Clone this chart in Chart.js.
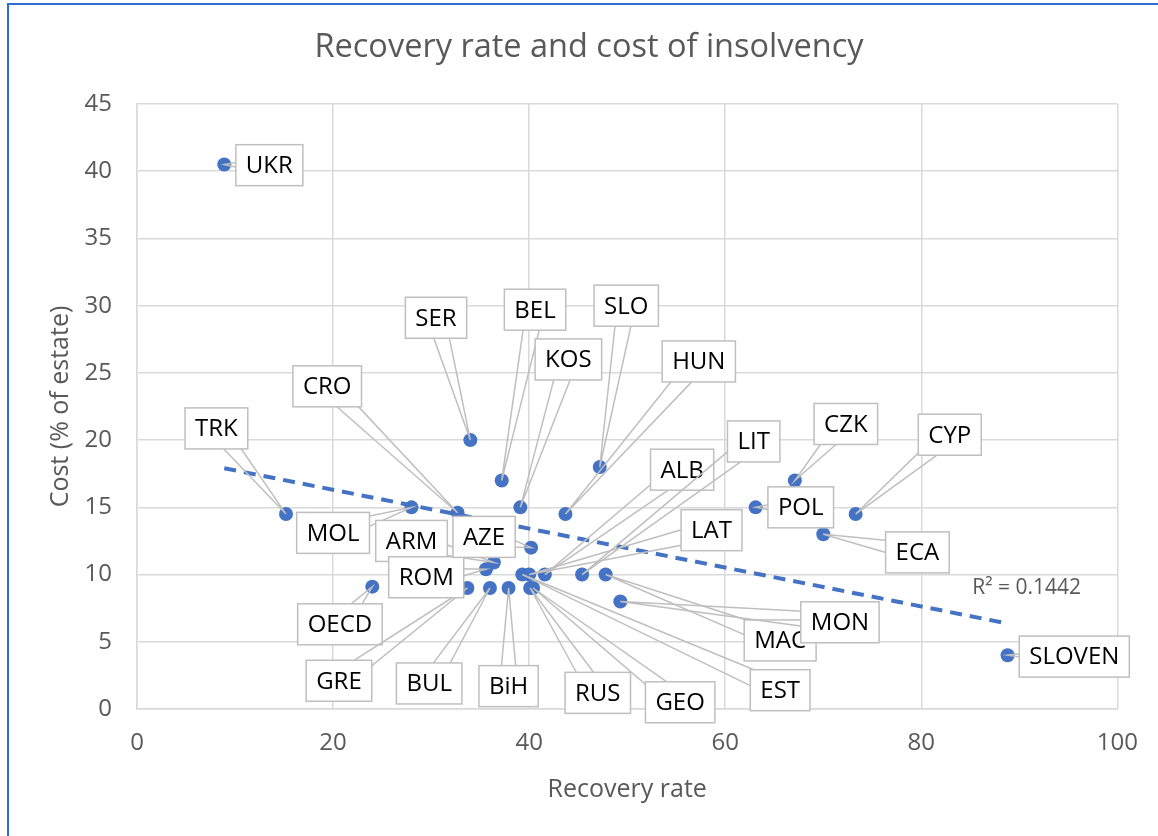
<!DOCTYPE html>
<html>
<head>
<meta charset="utf-8">
<script src="https://cdn.jsdelivr.net/npm/chart.js@4.4.1/dist/chart.umd.min.js"></script>
<style>
  html, body { margin: 0; padding: 0; background: #fff; }
  #wrap { width: 1158px; height: 836px; position: relative; }
  canvas { display: block; }
</style>
</head>
<body>
<div id="wrap"><canvas id="chart" width="1158" height="836"></canvas></div>
<script>
// Recovery rate vs cost of insolvency, one point per country
const countries = ['UKR', 'TRK', 'OECD', 'MOL', 'CRO', 'GRE', 'SER', 'ARM', 'ROM', 'BUL',
  'BEL', 'BiH', 'KOS', 'EST', 'LAT', 'RUS', 'AZE', 'GEO', 'ALB', 'HUN',
  'LIT', 'SLO', 'MAC', 'MON', 'POL', 'CZK', 'ECA', 'CYP', 'SLOVEN'];
const recovery = [8.9, 15.2, 24.0, 28.0, 32.7, 33.7, 34.0, 36.4, 35.6, 36.0,
  37.2, 37.9, 39.1, 39.3, 40.0, 40.1, 40.2, 40.4, 41.6, 43.7,
  45.4, 47.2, 47.8, 49.3, 63.1, 67.1, 70.0, 73.3, 88.8];
const cost = [40.5, 14.5, 9.1, 15, 14.6, 9, 20, 10.9, 10.4, 9,
  17, 9, 15, 10, 10, 9, 12, 9, 10, 14.5,
  10, 18, 10, 8, 15, 17, 13, 14.5, 4];

// where each callout box sits (axis units)
const labelX = [13.5, 8.1, 20.7, 20.0, 19.4, 20.6, 30.5, 28.0, 29.5, 29.8,
  40.6, 37.9, 44.0, 65.6, 58.6, 47.0, 35.4, 55.4, 55.6, 57.3,
  62.9, 49.9, 65.6, 71.7, 67.7, 72.3, 79.6, 82.9, 95.6];
const labelY = [40.45, 20.87, 6.3, 13.1, 24.0, 2.1, 29.1, 12.5, 9.8, 1.9,
  29.7, 1.7, 26.0, 1.4, 13.3, 1.2, 12.8, 0.5, 17.8, 25.85,
  19.9, 30.0, 5.1, 6.45, 15.0, 21.2, 11.65, 20.4, 3.9];

const r2Text = 'R² = 0.1442';

const blue = '#4472C4';
const grey = '#595959';
const gridCol = '#d9d9d9';
const font = '"Open Sans", "Noto Sans", sans-serif';

// linear trend (least squares)
function trend() {
  const n = recovery.length;
  const mx = recovery.reduce((a, b) => a + b, 0) / n;
  const my = cost.reduce((a, b) => a + b, 0) / n;
  let sxy = 0, sxx = 0;
  for (let i = 0; i < n; i++) {
    sxy += (recovery[i] - mx) * (cost[i] - my);
    sxx += (recovery[i] - mx) ** 2;
  }
  const b = sxy / sxx, a = my - b * mx;
  const x0 = Math.min(...recovery), x1 = Math.max(...recovery);
  return [{ x: x0, y: a + b * x0 }, { x: x1, y: a + b * x1 }];
}

const frame = {
  id: 'frame',
  beforeDraw(chart) {
    const ctx = chart.ctx;
    ctx.save();
    ctx.strokeStyle = '#2f6fd0';
    ctx.lineWidth = 2;
    ctx.beginPath();
    ctx.moveTo(8, 836);
    ctx.lineTo(8, 4);
    ctx.lineTo(1158, 4);
    ctx.stroke();
    ctx.fillStyle = grey;
    ctx.font = '32.5px ' + font;
    ctx.textAlign = 'center';
    ctx.textBaseline = 'middle';
    ctx.fillText('Recovery rate and cost of insolvency', 589, 48);
    ctx.restore();
  }
};

const callouts = {
  id: 'callouts',
  afterDatasetsDraw(chart) {
    const { ctx, scales: { x, y } } = chart;
    const pts = chart.getDatasetMeta(0).data;
    ctx.save();
    ctx.font = '24px ' + font;
    ctx.lineWidth = 1.5;
    countries.forEach((name, i) => {
      const px = pts[i].x, py = pts[i].y;
      const cx = x.getPixelForValue(labelX[i]);
      const cy = y.getPixelForValue(labelY[i]);
      const w = ctx.measureText(name).width + 20, h = 41;
      const dx = px - cx, dy = py - cy;
      const len = Math.hypot(dx, dy) || 1;
      const nx = -dy / len, ny = dx / len, s = 9;
      ctx.strokeStyle = '#bfbfbf';
      ctx.beginPath();
      ctx.moveTo(cx + nx * s, cy + ny * s);
      ctx.lineTo(px, py);
      ctx.lineTo(cx - nx * s, cy - ny * s);
      ctx.stroke();
      ctx.fillStyle = '#fff';
      ctx.fillRect(cx - w / 2, cy - h / 2, w, h);
      ctx.strokeRect(cx - w / 2, cy - h / 2, w, h);
      ctx.fillStyle = '#000';
      ctx.textAlign = 'center';
      ctx.textBaseline = 'middle';
      ctx.fillText(name, cx, cy + 1);
    });
    // R squared note
    ctx.fillStyle = grey;
    ctx.font = '21px ' + font;
    ctx.textAlign = 'left';
    ctx.textBaseline = 'middle';
    ctx.fillText(r2Text, x.getPixelForValue(85.2), y.getPixelForValue(9.0));
    ctx.restore();
  }
};

new Chart(document.getElementById('chart'), {
  type: 'scatter',
  data: {
    datasets: [{
      label: 'Countries',
      data: recovery.map((v, i) => ({ x: v, y: cost[i] })),
      backgroundColor: blue,
      pointRadius: 7,
      pointBorderWidth: 0
    }, {
      type: 'line',
      label: 'Trend',
      data: trend(),
      borderColor: blue,
      borderWidth: 4,
      borderDash: [12, 8],
      pointRadius: 0,
      fill: false
    }]
  },
  options: {
    responsive: false,
    animation: false,
    layout: { padding: { top: 104, right: 39, left: 0, bottom: 0 } },
    plugins: {
      legend: { display: false },
      tooltip: { enabled: false }
    },
    scales: {
      x: {
        type: 'linear', min: 0, max: 100,
        ticks: { stepSize: 20, color: grey, font: { family: font, size: 24 }, padding: 20 },
        grid: { color: gridCol, lineWidth: 1.5, drawTicks: false },
        border: { color: gridCol, width: 1.5 },
        title: { display: true, text: 'Recovery rate', color: grey, font: { family: font, size: 25 }, padding: { top: 0, bottom: 31 } },
        afterFit(scale) { scale.height = 127; }
      },
      y: {
        min: 0, max: 45,
        ticks: { stepSize: 5, color: grey, font: { family: font, size: 24 }, padding: 25 },
        grid: { color: gridCol, lineWidth: 1.5, drawTicks: false },
        border: { color: gridCol, width: 1.5 },
        title: { display: true, text: 'Cost (% of estate)', color: grey, font: { family: font, size: 25 }, padding: { top: 46, bottom: 0 } },
        afterFit(scale) { scale.width = 137; }
      }
    }
  },
  plugins: [frame, callouts]
});
</script>
</body>
</html>
